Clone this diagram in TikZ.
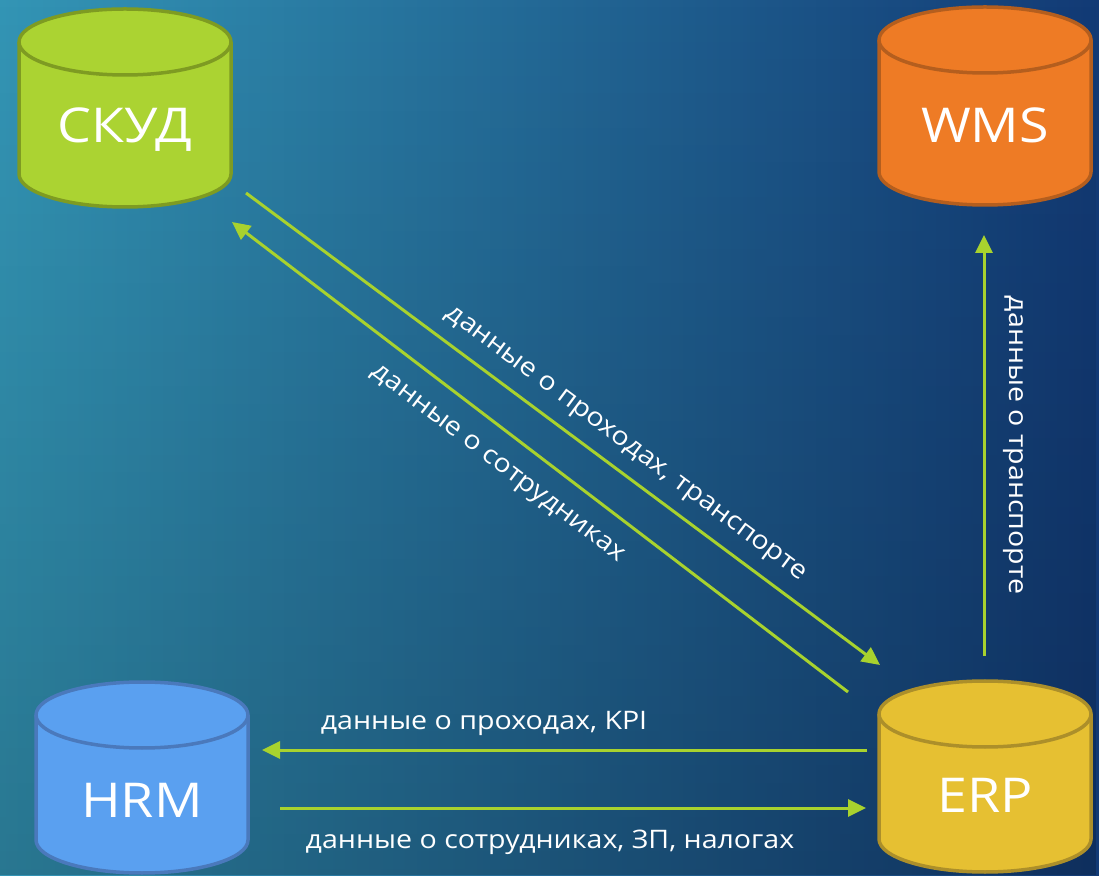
\documentclass[tikz,border=0pt]{standalone}
\usepackage{fontspec}
\setmainfont[FakeStretch=1.12]{Open Sans}
\usetikzlibrary{arrows.meta,fadings}
\definecolor{bgL}{HTML}{3395B5}
\definecolor{bgR}{HTML}{123A75}
\definecolor{arrowc}{HTML}{A8D22E}
\definecolor{skudF}{HTML}{ABD332}
\definecolor{skudD}{HTML}{7E9B22}
\definecolor{wmsF}{HTML}{EE7B25}
\definecolor{wmsD}{HTML}{B45E1E}
\definecolor{erpF}{HTML}{E6C032}
\definecolor{erpD}{HTML}{AC8F2A}
\definecolor{hrmF}{HTML}{5AA0F0}
\definecolor{hrmD}{HTML}{4A79BC}
\newcommand\dbcyl[8]{%
  \filldraw[fill=#5, draw=#6, line width=3.5pt]
    (#2-106,#3) -- (#2-106,#4)
    arc[start angle=180,end angle=360,x radius=106pt,y radius=33pt]
    -- (#2+106,#3)
    arc[start angle=0,end angle=180,x radius=106pt,y radius=33pt] -- cycle;
  \draw[draw=#6, line width=3.5pt] (#2-106,#3)
    arc[start angle=180,end angle=360,x radius=106pt,y radius=33pt];
  \node[dbtext] (#1) at (#2,#8) {#7};
}
\begin{document}
\begin{tikzpicture}[x=1pt,y=1pt,
  flow/.style={draw=arrowc, line width=3pt, -{Triangle[length=18pt,width=17pt]}},
  lbl/.style={text=white, font=\fontsize{25.5}{28}\selectfont, inner sep=0pt},
  dbtext/.style={text=white, font=\fontsize{48}{52}\selectfont, inner sep=0pt}]
\useasboundingbox (0,0) rectangle (1099,875);
\fill[left color=bgL, right color=bgR] (0,0) rectangle (1099,875);
\fill[black, opacity=0.2, path fading=north] (0,0) rectangle (1099,875);

\dbcyl{skud}{125}{833}{701}{skudF}{skudD}{СКУД}{745}
\dbcyl{wms}{985}{835}{703}{wmsF}{wmsD}{WMS}{750}
\dbcyl{erp}{985}{161}{36}{erpF}{erpD}{ERP}{80}
\dbcyl{hrm}{142}{160}{35}{hrmF}{hrmD}{HRM}{75}

\coordinate (a1s) at (246,682); \coordinate (a1e) at (880,210);
\coordinate (a2s) at (848,183); \coordinate (a2e) at (232,653);
\coordinate (a3s) at (984,219); \coordinate (a3e) at (984,640);
\coordinate (a4s) at (867,125); \coordinate (a4e) at (262,125);
\coordinate (a5s) at (280,67);  \coordinate (a5e) at (866,67);

\draw[flow] (a1s) -- (a1e);
\draw[flow] (a2s) -- (a2e);
\draw[flow] (a3s) -- (a3e);
\draw[flow] (a4s) -- (a4e);
\draw[flow] (a5s) -- (a5e);

\node[lbl, rotate=-36.7] (l1) at (625,430) {данные о проходах, транспорте};
\node[lbl, rotate=-37.3] (l2) at (497,410) {данные о сотрудниках};
\node[lbl, rotate=-90] (l3) at (1013,430) {данные о транспорте};
\node[lbl] (l4) at (484,152) {данные о проходах, KPI};
\node[lbl] (l5) at (550,33) {данные о сотрудниках, ЗП, налогах};
\end{tikzpicture}
\end{document}
